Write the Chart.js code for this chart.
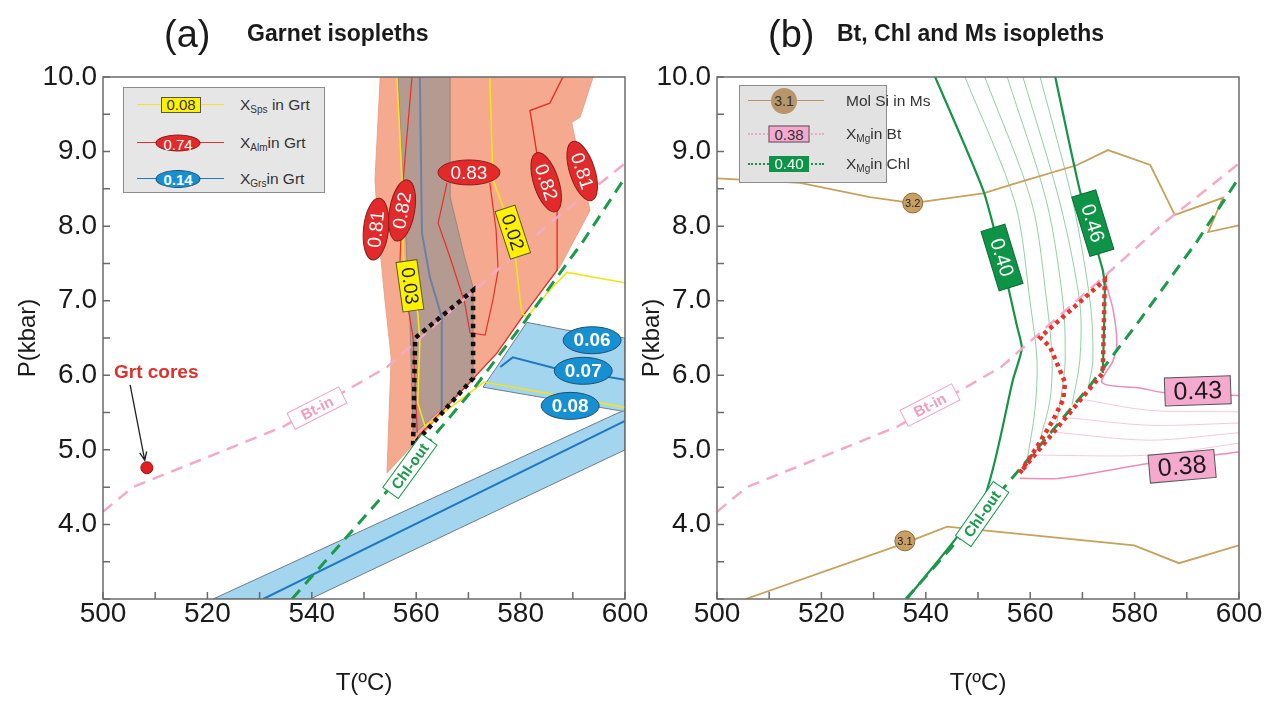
<!DOCTYPE html>
<html>
<head>
<meta charset="utf-8">
<script src="https://cdn.jsdelivr.net/npm/chart.js@4.4.0/dist/chart.umd.min.js"></script>
<style>
  body { margin: 0; background: #fff; font-family: "Liberation Sans", Arial, sans-serif; }
  #wrap { position: relative; width: 1276px; height: 702px; overflow: hidden; }
  canvas { position: absolute; top: 0; }
  .ttl { position: absolute; color: #1a1a1a; white-space: nowrap; line-height: 1; }
  .lg { position: absolute; background: #e6e6e6; border: 1px solid #8c8c8c; box-sizing: border-box; }
  .row { position: absolute; left: 0; width: 100%; height: 0; }
  .ln { position: absolute; top: -1px; height: 0; }
  .badge { position: absolute; top: 0; transform: translate(-50%, -50%); text-align: center; box-sizing: border-box; font-size: 15px; }
  .txt { position: absolute; top: 0; transform: translateY(-50%); font-size: 15.5px; color: #333; white-space: nowrap; }
  sub { font-size: 10px; vertical-align: -3px; }
</style>
</head>
<body>
<div id="wrap">
  <canvas id="chartA" width="660" height="702" style="left:0"></canvas>
  <canvas id="chartB" width="640" height="702" style="left:636px"></canvas>

  <div class="ttl" style="left:164px;top:15px;font-size:38px">(a)</div>
  <div class="ttl" style="left:247px;top:22px;font-size:23px;font-weight:bold">Garnet isopleths</div>
  <div class="ttl" style="left:768px;top:15px;font-size:38px">(b)</div>
  <div class="ttl" style="left:837px;top:22px;font-size:23px;font-weight:bold">Bt, Chl and Ms isopleths</div>

  <!-- legende panel a -->
  <div class="lg" style="left:123px;top:87px;width:202px;height:106px">
    <div class="row" style="top:17px">
      <div class="ln" style="left:13px;width:87px;border-top:1.5px solid #f3e31d"></div>
      <div class="badge" style="left:57px;width:40px;height:16px;line-height:14px;background:#fff200;border:1px solid #555;color:#333">0.08</div>
      <div class="txt" style="left:116px">X<sub>Sps</sub> in Grt</div>
    </div>
    <div class="row" style="top:55px">
      <div class="ln" style="left:13px;width:87px;border-top:1.5px solid #e8302a"></div>
      <div class="badge" style="left:54px;width:45px;height:17px;line-height:17px;border-radius:50%;background:#e22a2a;border:1px solid #8a1d1d;color:#fff">0.74</div>
      <div class="txt" style="left:116px">X<sub>Alm</sub>in Grt</div>
    </div>
    <div class="row" style="top:91px">
      <div class="ln" style="left:13px;width:87px;border-top:1.5px solid #1f78c0"></div>
      <div class="badge" style="left:54px;width:45px;height:18px;line-height:18px;border-radius:50%;background:#1690d2;border:1px solid #1f4f70;color:#fff;font-weight:bold">0.14</div>
      <div class="txt" style="left:116px">X<sub>Grs</sub>in Grt</div>
    </div>
  </div>

  <!-- legende panel b -->
  <div class="lg" style="left:739px;top:85px;width:148px;height:98px;background:#e2e2e2">
    <div class="row" style="top:15px">
      <div class="ln" style="left:8px;width:76px;border-top:1.5px solid #b8935e"></div>
      <div class="badge" style="left:44px;width:26px;height:26px;line-height:26px;border-radius:50%;background:#b8956a;color:#333;font-size:14px">3.1</div>
      <div class="txt" style="left:106px">Mol Si in Ms</div>
    </div>
    <div class="row" style="top:48px">
      <div class="ln" style="left:8px;width:76px;border-top:2px dotted #f3a6c8"></div>
      <div class="badge" style="left:49px;width:41px;height:17px;line-height:15px;background:#f6a9cf;border:1px solid #555;color:#333">0.38</div>
      <div class="txt" style="left:106px">X<sub>Mg</sub>in Bt</div>
    </div>
    <div class="row" style="top:78px">
      <div class="ln" style="left:8px;width:76px;border-top:2px dotted #159447"></div>
      <div class="badge" style="left:49px;width:40px;height:16px;line-height:16px;background:#0e9447;color:#fff">0.40</div>
      <div class="txt" style="left:106px">X<sub>Mg</sub>in Chl</div>
    </div>
  </div>
</div>

<script>
const FONT = '"Liberation Sans", Arial, sans-serif';

// ejes
const tRange = [500, 600];
const pRange = [3, 10];

// ---------- panel (a) : isopletas de granate (T ºC, P kbar) ----------
const grtField = [[553.1, 10.0], [552.1, 8.62], [552.7, 7.95], [554.0, 7.01], [555.2, 6.24], [554.4, 4.69], [560.5, 5.15], [569.5, 5.85], [575.5, 6.30], [580.5, 6.80], [587.5, 7.45], [593.3, 8.21], [589.8, 9.39], [591.4, 9.46], [593.9, 10.0], [553.1, 10.0]];
const greyBand = [[556.5, 10.0], [557.5, 8.62], [558.2, 7.58], [558.8, 6.74], [559.4, 5.20], [570.9, 5.94], [570.9, 7.18], [569.3, 7.58], [566.5, 8.39], [566.5, 10.0], [556.5, 10.0]];
const grsBandLow = [[521.1, 3.0], [598.5, 5.49], [600, 5.53], [600, 5.0], [539.7, 3.0], [521.1, 3.0]];
const grsBandUp = [[581.2, 6.71], [588.5, 6.61], [600, 6.50], [600, 5.51], [598.5, 5.53], [572.8, 5.84], [576.1, 6.18], [581.2, 6.71]];
const grsMid = [[530.7, 3.0], [600, 5.39]];
const grs007 = [[576.1, 6.11], [578.5, 6.24], [586.2, 6.10], [600, 5.94]];
const grsGrey = [[560.7, 10.0], [561.1, 7.91], [562.6, 7.32], [564.9, 6.78], [564.9, 5.52]];
const sps003 = [[556.3, 10.0], [557.3, 8.62], [557.5, 7.58], [560.3, 6.83], [560.7, 6.47], [560.3, 5.63], [561.7, 5.31], [573.0, 5.91], [600, 5.57]];
const sps002 = [[574.1, 10.0], [574.7, 8.62], [578.5, 7.92], [579.9, 7.01], [580.3, 6.83], [581.2, 6.78], [585.6, 7.14], [588.9, 7.38], [600, 7.24]];
const alm082L = [[559.2, 10.0], [557.5, 8.62], [556.9, 7.54], [559.4, 6.51], [560.2, 5.23]];
const alm083 = [[565.9, 8.58], [564.2, 8.04], [566.5, 7.58], [569.3, 6.97], [570.3, 6.57], [573.2, 6.54], [574.7, 7.01], [575.7, 7.41], [575.3, 7.95], [574.1, 8.58]];
const alm082R = [[588.1, 10.0], [585.6, 9.65], [581.8, 9.55], [583.1, 8.98], [587.0, 8.31], [587.0, 7.41], [580.5, 6.80], [575.5, 6.30], [569.5, 5.85], [560.2, 5.17]];
const peakBox = [[559.4, 5.06], [559.8, 6.50], [570.9, 7.14], [570.9, 5.96], [559.4, 5.06]];
const grtCore = [[508.4, 4.76]];

// reacciones comunes a los dos paneles
const btIn = [[500, 4.17], [505.7, 4.50], [534.5, 5.31], [554.4, 6.11], [572.8, 7.24], [585.6, 8.04], [600, 8.84]];
const chlOut = [[536.2, 3.0], [553.6, 4.38], [562.6, 5.12], [571.0, 5.82], [581.0, 6.74], [592.0, 7.80], [600, 8.65]];

// ---------- panel (b) : Bt, Chl y Ms ----------
const ms32 = [[500, 8.64], [515.9, 8.58], [529.3, 8.39], [537.5, 8.31], [551.0, 8.44], [557.5, 8.58], [569.0, 8.82], [574.9, 9.02], [583.0, 8.82], [587.7, 8.15], [596.9, 8.38], [594.1, 7.92], [600, 8.01]];
const ms31 = [[505.5, 3.0], [536.0, 3.75], [544.1, 3.97], [551.1, 3.92], [579.9, 3.72], [588.5, 3.48], [600, 3.72]];
const chl040 = [[541.8, 10.0], [551.0, 8.48], [554.6, 7.54], [557.5, 6.65], [558.4, 6.36], [556.7, 5.94], [551.0, 4.33], [536.4, 3.0]];
const chl041 = [[547.5, 10.0], [557.1, 8.31], [560.0, 6.97], [561.3, 6.20], [560.9, 5.53], [559.4, 4.86]];
const chl042 = [[551.3, 10.0], [560.3, 8.31], [563.2, 6.97], [564.2, 6.20], [563.8, 5.67], [561.9, 5.13]];
const chl043 = [[555.6, 10.0], [563.2, 8.31], [566.3, 6.97], [566.7, 6.20], [566.1, 5.80], [565.1, 5.37]];
const chl044 = [[558.6, 10.0], [565.7, 8.31], [569.5, 6.97], [569.5, 6.20], [568.0, 5.60]];
const chl045 = [[561.9, 10.0], [568.2, 8.31], [571.5, 6.97], [572.0, 6.20], [571.1, 5.83]];
const chl046 = [[564.8, 10.0], [569.5, 8.48], [573.9, 7.41], [574.3, 7.14], [573.9, 6.03]];
const bt043 = [[574.3, 7.28], [575.9, 6.87], [576.6, 6.43], [575.9, 6.20], [573.8, 5.90], [581.0, 5.83], [585.4, 5.77], [600, 5.73]];
const bt042 = [[570.5, 5.67], [582.9, 5.53], [600, 5.51]];
const bt041 = [[567.2, 5.43], [582.9, 5.33], [600, 5.36]];
const bt040 = [[564.2, 5.24], [582.9, 5.13], [600, 5.23]];
const bt039 = [[560.9, 4.93], [582.9, 4.93], [600, 5.09]];
const bt038 = [[558.0, 4.62], [565.7, 4.62], [582.9, 4.82], [600, 4.97]];
const peakField = [[558.0, 4.69], [561.3, 5.04], [564.4, 5.40], [566.3, 5.67], [566.7, 5.90], [563.8, 6.38], [561.9, 6.51], [574.3, 7.28], [573.9, 6.03], [558.0, 4.69]];

// convierte pares [T, P] a puntos
const pts = (a) => a.map(([x, y]) => ({ x, y }));

const line = (data, color, width, extra) =>
  Object.assign({ data: pts(data), showLine: true, borderColor: color, borderWidth: width, pointRadius: 0, fill: false, tension: 0, order: 10 }, extra);

const poly = (data, fillColor, stroke, width, order) =>
  ({ data: pts(data), showLine: true, borderColor: stroke, borderWidth: width, backgroundColor: fillColor, pointRadius: 0, fill: 'shape', tension: 0, order });

// estilos de las etiquetas dentro del grafico
const tagStyles = {
  alm: { shape: 'ellipse', w: 62, h: 25, fill: '#e22a2a', stroke: '#8a1d1d', color: '#fff', font: '19px ' + FONT },
  sps: { shape: 'rect', w: 50, h: 21, fill: '#fff200', stroke: '#5a5a2a', color: '#222', font: '19px ' + FONT },
  grs: { shape: 'ellipse', w: 58, h: 27, fill: '#1690d2', stroke: '#1f4f70', color: '#fff', font: 'bold 19px ' + FONT },
  btin: { shape: 'rect', w: 58, h: 18, fill: '#fff', stroke: '#f2a4c4', color: '#f29cc0', font: 'bold 15px ' + FONT },
  chlout: { shape: 'rect', w: 66, h: 19, fill: '#fff', stroke: '#1a9a4a', color: '#1a9a4a', font: 'bold 15px ' + FONT },
  chl: { shape: 'rect', w: 62, h: 25, fill: '#0e9447', stroke: '#0b6b33', color: '#fff', font: '20px ' + FONT },
  bt: { shape: 'rect', w: 66, h: 28, fill: '#f6a9cf', stroke: '#555', color: '#1a1a1a', font: '25px ' + FONT },
  ms: { shape: 'circle', w: 20, h: 20, fill: '#c8a064', stroke: '#8c6c3c', color: '#222', font: '11px ' + FONT }
};

const tagsA = [
  { t: '0.81', x: 552.3, y: 7.96, kind: 'alm', rot: -84 },
  { t: '0.82', x: 557.3, y: 8.21, kind: 'alm', rot: -80 },
  { t: '0.83', x: 570.1, y: 8.72, kind: 'alm', rot: 0 },
  { t: '0.82', x: 584.9, y: 8.59, kind: 'alm', rot: 72 },
  { t: '0.81', x: 591.8, y: 8.74, kind: 'alm', rot: 72 },
  { t: '0.03', x: 558.8, y: 7.20, kind: 'sps', rot: 82 },
  { t: '0.02', x: 578.5, y: 7.92, kind: 'sps', rot: 72 },
  { t: '0.06', x: 593.7, y: 6.47, kind: 'grs', rot: 0 },
  { t: '0.07', x: 592.0, y: 6.06, kind: 'grs', rot: 0 },
  { t: '0.08', x: 589.5, y: 5.59, kind: 'grs', rot: 0 },
  { t: 'Bt-in', x: 541.0, y: 5.56, kind: 'btin', rot: -27 },
  { t: 'Chl-out', x: 558.8, y: 4.78, kind: 'chlout', rot: -54 }
];

const tagsB = [
  { t: '0.40', x: 554.6, y: 7.58, kind: 'chl', rot: 73 },
  { t: '0.46', x: 572.0, y: 8.04, kind: 'chl', rot: 73 },
  { t: '0.43', x: 592.1, y: 5.79, kind: 'bt', rot: -2 },
  { t: '0.38', x: 589.1, y: 4.78, kind: 'bt', rot: -5 },
  { t: '3.2', x: 537.5, y: 8.31, kind: 'ms', rot: 0 },
  { t: '3.1', x: 536.0, y: 3.78, kind: 'ms', rot: 0 },
  { t: 'Bt-in', x: 540.8, y: 5.60, kind: 'btin', rot: -27 },
  { t: 'Chl-out', x: 550.8, y: 4.14, kind: 'chlout', rot: -55 }
];

function drawTag(ctx, px, py, it) {
  ctx.save();
  ctx.translate(px, py);
  ctx.rotate((it.rot || 0) * Math.PI / 180);
  ctx.beginPath();
  if (it.shape === 'ellipse') ctx.ellipse(0, 0, it.w / 2, it.h / 2, 0, 0, Math.PI * 2);
  else if (it.shape === 'circle') ctx.arc(0, 0, it.w / 2, 0, Math.PI * 2);
  else ctx.rect(-it.w / 2, -it.h / 2, it.w, it.h);
  ctx.fillStyle = it.fill;
  ctx.fill();
  ctx.lineWidth = 1;
  ctx.strokeStyle = it.stroke;
  ctx.stroke();
  ctx.fillStyle = it.color;
  ctx.font = it.font;
  ctx.textAlign = 'center';
  ctx.textBaseline = 'middle';
  ctx.fillText(it.t, 0, 1);
  ctx.restore();
}

// marco, marcas hacia dentro y etiquetas
const tagPlugin = {
  id: 'tags',
  afterDatasetsDraw(chart, args, opts) {
    const { ctx, chartArea: a, scales: { x, y } } = chart;
    ctx.save();
    ctx.strokeStyle = '#6b6b6b';
    ctx.lineWidth = 1.5;
    ctx.strokeRect(a.left, a.top, a.right - a.left, a.bottom - a.top);
    ctx.beginPath();
    x.ticks.forEach((t) => {
      const px = x.getPixelForValue(t.value);
      ctx.moveTo(px, a.bottom);
      ctx.lineTo(px, a.bottom - 7);
    });
    y.ticks.forEach((t) => {
      const py = y.getPixelForValue(t.value);
      ctx.moveTo(a.left, py);
      ctx.lineTo(a.left + 7, py);
    });
    ctx.stroke();
    ctx.restore();

    (opts.arrows || []).forEach((ar) => {
      const x0 = x.getPixelForValue(ar.from[0]), y0 = y.getPixelForValue(ar.from[1]);
      const x1 = x.getPixelForValue(ar.to[0]), y1 = y.getPixelForValue(ar.to[1]);
      const ang = Math.atan2(y1 - y0, x1 - x0);
      ctx.save();
      ctx.strokeStyle = '#222';
      ctx.lineWidth = 1.3;
      ctx.beginPath();
      ctx.moveTo(x0, y0);
      ctx.lineTo(x1, y1);
      ctx.moveTo(x1 - 9 * Math.cos(ang - 0.4), y1 - 9 * Math.sin(ang - 0.4));
      ctx.lineTo(x1, y1);
      ctx.lineTo(x1 - 9 * Math.cos(ang + 0.4), y1 - 9 * Math.sin(ang + 0.4));
      ctx.stroke();
      ctx.restore();
    });

    (opts.texts || []).forEach((tx) => {
      ctx.save();
      ctx.fillStyle = tx.color;
      ctx.font = tx.font;
      ctx.textAlign = 'center';
      ctx.textBaseline = 'middle';
      ctx.fillText(tx.t, x.getPixelForValue(tx.x), y.getPixelForValue(tx.y));
      ctx.restore();
    });

    (opts.items || []).forEach((it) => {
      const st = Object.assign({}, tagStyles[it.kind], it);
      drawTag(ctx, x.getPixelForValue(it.x), y.getPixelForValue(it.y), st);
    });
  }
};

function makeOptions(pad, yWidth, yTitlePad, extras) {
  return {
    responsive: false,
    animation: false,
    layout: { padding: pad },
    plugins: { legend: { display: false }, tooltip: { enabled: false }, tags: extras },
    scales: {
      x: {
        type: 'linear', min: tRange[0], max: tRange[1],
        grid: { display: false, drawTicks: false }, border: { display: false },
        ticks: {
          stepSize: 10, autoSkip: false, maxRotation: 0, padding: 1, color: '#1a1a1a',
          font: { family: FONT, size: 28, lineHeight: 1 },
          callback: (v) => (v % 20 === 0 ? String(v) : '')
        },
        title: { display: true, text: 'T(ºC)', color: '#1a1a1a', font: { family: FONT, size: 24 }, padding: { top: 0, bottom: 4 } },
        afterFit: (s) => { s.height = 103; s.paddingLeft = 0; s.paddingRight = 0; }
      },
      y: {
        type: 'linear', min: pRange[0], max: pRange[1],
        grid: { display: false, drawTicks: false }, border: { display: false },
        ticks: {
          stepSize: 0.5, autoSkip: false, padding: 6, color: '#1a1a1a',
          font: { family: FONT, size: 28, lineHeight: 1 },
          callback: (v) => (Number.isInteger(v) && v > 3 ? v.toFixed(1) : '')
        },
        title: { display: true, text: 'P(kbar)', color: '#1a1a1a', font: { family: FONT, size: 24 }, padding: { top: yTitlePad, bottom: 0 } },
        afterFit: (s) => { s.width = yWidth; s.paddingTop = 0; s.paddingBottom = 0; }
      }
    }
  };
}

new Chart(document.getElementById('chartA'), {
  type: 'scatter',
  data: {
    datasets: [
      poly(grtField, '#f5aa90', '#e59c84', 0.8, 20),
      poly(greyBand, '#b49a90', '#8f7d78', 0.8, 19),
      poly(grsBandLow, '#a3d6ee', '#6d7d8c', 1, 18),
      poly(grsBandUp, '#a3d6ee', '#6d7d8c', 1, 18),
      line(grsMid, '#1f78c0', 2),
      line(grs007, '#1f78c0', 2),
      line(grsGrey, '#6e7fa6', 2),
      line(sps003, '#f3e31d', 1.6),
      line(sps002, '#f3e31d', 1.6),
      line(alm082L, '#e8302a', 1.2),
      line(alm083, '#e8302a', 1.2),
      line(alm082R, '#e8302a', 1.4),
      line(btIn, '#f5a9c8', 2.5, { borderDash: [12, 8], order: 8 }),
      line(chlOut, '#1a9a4a', 3, { borderDash: [12, 8], order: 7 }),
      line(peakBox, '#111', 4.5, { borderDash: [4.5, 4.5], order: 5 }),
      { data: pts(grtCore), pointRadius: 6, pointBackgroundColor: '#e02020', pointBorderColor: '#9a1515', pointBorderWidth: 1, order: 1 }
    ]
  },
  options: makeOptions({ left: 0, top: 77, right: 35, bottom: 0 }, 103, 14, {
    items: tagsA,
    texts: [{ t: 'Grt cores', x: 510.2, y: 6.04, color: '#e0302a', font: 'bold 19px ' + FONT }],
    arrows: [{ from: [505.2, 5.87], to: [508.0, 4.86] }]
  }),
  plugins: [tagPlugin]
});

new Chart(document.getElementById('chartB'), {
  type: 'scatter',
  data: {
    datasets: [
      line(ms32, '#c9a05c', 1.8),
      line(ms31, '#c9a05c', 1.8),
      line(chl041, '#86c998', 0.9, { tension: 0.3, order: 12 }),
      line(chl042, '#86c998', 0.9, { tension: 0.3, order: 12 }),
      line(chl043, '#86c998', 0.9, { tension: 0.3, order: 12 }),
      line(chl044, '#86c998', 0.9, { tension: 0.3, order: 12 }),
      line(chl045, '#86c998', 0.9, { tension: 0.3, order: 12 }),
      line(chl040, '#159447', 2.2, { tension: 0.2, order: 9 }),
      line(chl046, '#159447', 2.2, { tension: 0.2, order: 9 }),
      line(bt042, '#f7c8dd', 1, { tension: 0.3, order: 12 }),
      line(bt041, '#f7c8dd', 1, { tension: 0.3, order: 12 }),
      line(bt040, '#f7c8dd', 1, { tension: 0.3, order: 12 }),
      line(bt039, '#f7c8dd', 1, { tension: 0.3, order: 12 }),
      line(bt043, '#ee8bb8', 1.5, { tension: 0.3, order: 9 }),
      line(bt038, '#ee8bb8', 1.5, { tension: 0.3, order: 9 }),
      line(btIn, '#f5a9c8', 2.5, { borderDash: [12, 8], order: 8 }),
      line(chlOut, '#1a9a4a', 3, { borderDash: [12, 8], order: 7 }),
      line(peakField, '#e8322b', 4.5, { borderDash: [4, 4], order: 5 })
    ]
  },
  options: makeOptions({ left: 0, top: 77, right: 37, bottom: 0 }, 81, 2, { items: tagsB }),
  plugins: [tagPlugin]
});
</script>
</body>
</html>
